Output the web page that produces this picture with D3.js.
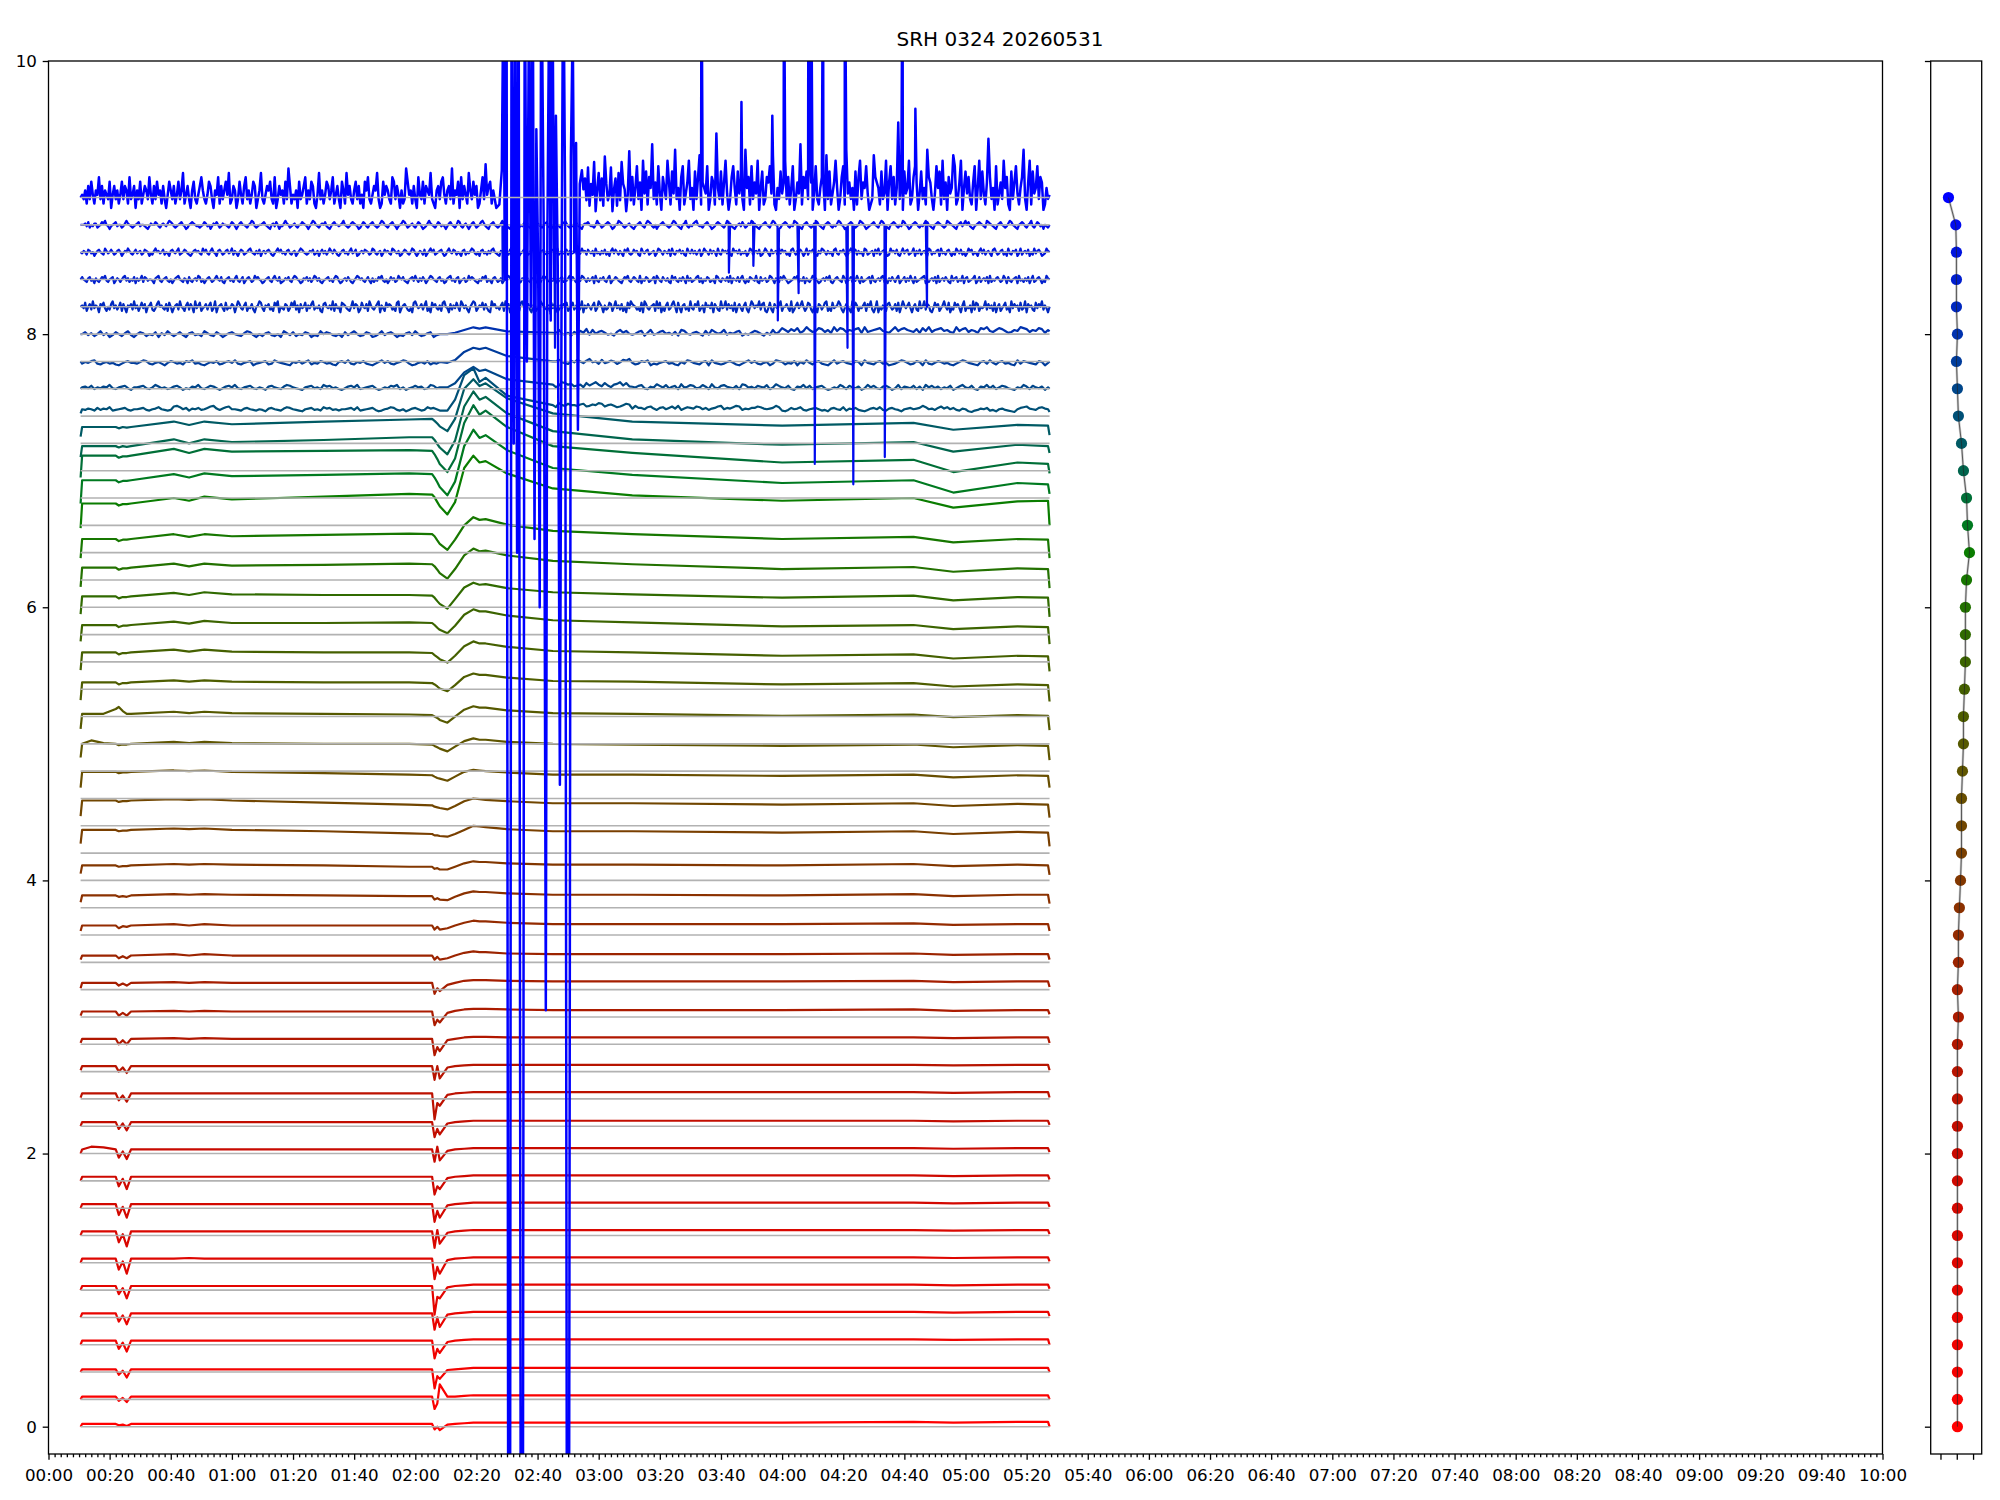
<!DOCTYPE html>
<html lang="en">
<head>
    <meta charset="UTF-8">
    <title>SRH 0324 20260531</title>
    <script src="https://d3js.org/d3.v7.min.js"></script>
    <style>
        body { margin: 0; background: #ffffff; }
        svg { display: block; }
    </style>
</head>
<body>
    <svg id="chart"></svg>
    <script>
        const width = 2000;
        const height = 1500;
        const plot = {left: 48.5, right: 1882.5, top: 61, bottom: 1454};
        const side = {left: 1930.7, right: 1981.7};
        const fontFamily = "DejaVu Sans";

        const titleText = "SRH 0324 20260531";
        const xTickLabels = ["00:00", "00:20", "00:40", "01:00", "01:20", "01:40", "02:00", "02:20", "02:40", "03:00",
            "03:20", "03:40", "04:00", "04:20", "04:40", "05:00", "05:20", "05:40", "06:00", "06:20", "06:40",
            "07:00", "07:20", "07:40", "08:00", "08:20", "08:40", "09:00", "09:20", "09:40", "10:00"];
        const yTickValues = [0, 2, 4, 6, 8, 10];
        const sideTickValues = [-1, 0, 1];

        // baseline of every channel (grey lines, dots in the side panel)
        const traceOffsets = [0, 0.2, 0.4, 0.6, 0.8, 1.0, 1.2, 1.4, 1.6, 1.8, 2.0, 2.2, 2.4, 2.6, 2.8, 3.0,
            3.2, 3.4, 3.6, 3.8, 4.0, 4.2, 4.4, 4.6, 4.8, 5.0, 5.2, 5.4, 5.6, 5.8, 6.0, 6.2, 6.4, 6.6, 6.8,
            7.0, 7.2, 7.4, 7.6, 7.8, 8.0, 8.2, 8.4, 8.6, 8.8, 9.0];

        // minutes after 00:00 where the slow shape of each trace was read
        const knotMinutes = [10.5, 11, 14, 18, 22, 23, 24.3, 25.6, 27, 41, 46, 51, 60, 90, 118, 125.5, 126.3,
            127.2, 128, 130.5, 133, 136, 139, 141, 143, 150, 165, 191, 240, 283, 296, 317, 327, 327.5];

        // deviation from the baseline, in hundredths, at each knot
        const traceKnots = [
            [0, 2,2,2,2, 1,1.5,0.5,2, 2,2,2,2,2,2, 2,-2,0,-2.5, 1.5,2,2.5,3,3,3, 3,3,3, 3,3.5,3,3.5,3.5, 0],
            [0, 2,2,2,2, -1,1,-2,2, 2,2,2,2,2,2, 2,-7,-3,11, 2,2,2.5,3,3,3, 3,3,3, 3,3,3,3,3, 0],
            [0, 2,2,2,2, -2,1,-4,2, 2,2,2,2,2,2, 2,-12,-3,-5, 1.5,2,2.5,3,3,3, 3,3,3, 3,3,3,3,3, 0],
            [0, 3,3,3,3, -3,1.5,-5,3, 3,3,3,3,3,3, 3,-10,-3,-6, 2,3,3.5,4,4,4, 4,4,4, 4,4,3.5,4,4, 0],
            [0, 3,3,3,3, -3,1.5,-5,3, 3,3,3,3,3,3, 3,-9,0,-7, 2,3,3.5,4,4,4, 4,4,4, 4,4,3.5,4,4, 1],
            [0, 3,3,3,3, -3,1.5,-6,3, 3,3,3,3,3,3, 3,-18,-5,-6, 2,3,3.5,4,4,4, 4,4,4, 4,4,3.5,4,4, 1],
            [0, 3,3,3,3, -5,1,-8,3, 3,3.5,3,3,3,3, 3,-12,-3,-8, 2,3,3.5,4,4,4, 4,4,4, 4,4,3.5,4,4, 1],
            [0, 3,3,3,3, -5,1,-8,3, 3,3,3,3,3,3, 3,-9,4,-6, 2,3,3.5,4,4,4, 4,4,4, 4,4,3.5,4,4, 1],
            [0, 3,3,3,3, -5,1,-7,3, 3,3,3,3,3,3, 3,-10,-2,-7, 2,3,3.5,4,4,4, 4,4,4, 4,4,3.5,4,4, 1],
            [0, 3,3,3,3, -4,1.5,-6,3, 3,3,3,3,3,3, 3,-10,-4,-6, 2,3,3.5,4,4,4, 4,4,4, 4,4,3.5,4,4, 1],
            [0, 3,5,4.5,3, -3,1.5,-4,3, 3,3,3,3,3,3, 3,-6,5,-5, 2,3,3.5,4,4,4, 4,4,4, 4,4,3.5,4,4, 1],
            [0, 3,3,3,3, -2,2,-3,3, 3,3,3,3,3,3, 3,-8,-2,-6, 2,3,3.5,4,4,4, 4,4,4, 4,4,3.5,4,4, 1],
            [1, 4,4,4,4, -1,2.5,-2,4, 4,4,4,4,4,4, 4,-15,-3,-5, 3,4,4.5,5,5,5, 5,5,5, 5,5,4.5,5,5, 1],
            [1, 4,4,4,4, 0,3,-1,4, 4,4,4,4,4,4, 4,-6,4,-5, 3,4,4.5,5,5,5, 5,5,5, 5,5,4.5,5,5, 1],
            [1, 4,4,4,4, 0,3,0,4, 4.5,4,4.5,4,4,4, 4,-8,-2,-5, 3,4,5,5.5,5.5,5.5, 5,5,5, 5,5,4.5,5,5, 1],
            [1, 4,4,4,4, 1,3,1,4, 4.5,4,4.5,4,4,4, 4,-6,-2,-4, 3,4.5,5.5,6,6,6, 5.5,5,5, 5,5.5,4.5,5,5, 2],
            [1, 5,5,5,5, 3,4.5,3,5, 5.5,5,5.5,5,5,5, 5,-3,1,-1, 3.5,5,6.5,7,7,7, 6.5,6,6, 6,6.5,5.5,6,6, 2],
            [2, 5,5,5,5, 3,4.5,3,5, 6,5,6,5,5,5, 5,2,4,2, 3,5,7,8,7.5,7.5, 6.5,6,6, 6,6.5,5.5,6,6, 2],
            [3, 7,7,7,7, 5,6.5,6,7, 8,7,8,7,7,7, 7,4,6,4, 5,7,9,10.5,10,10, 9,8,8, 8,8.5,7.5,8,8, 3],
            [4, 9,9,9,9, 8,8.5,8,9, 10,9.5,10,9.5,9,8.5, 8.5,6,7,6, 5.5,8,10.5,12,11.5,11.5, 10.5,9.5,9.5, 9,10,8.5,9.5,9.5, 3],
            [5, 11,11,11,11, 10,10.5,10.5,11, 12,11.5,12,11.5,11,10, 10,8.5,9,8, 8,10,12.5,14,13.5,13.5, 12.5,11.5,11.5, 11,12,10.5,11.5,11, 4],
            [7, 17,17,17,17, 16,16.5,16.5,17, 18,17.5,18,17,16,14.5, 14,13,13,12.5, 12,14,17,20,19.5,19, 17.5,16,16, 15,16,14,15.5,15, 5],
            [7, 18.5,18.5,18.5,18.5, 17.5,18,18,18.5, 19.5,19,19.5,18.5,17,15.5, 15,14,13.5,13, 12,14.5,18,20,19.5,19, 18,16.5,16.5, 15.5,16.5,14.5,16,15.5, 6],
            [8, 19.5,19.5,19.5,19.5, 18.5,19,19,19.5, 20.5,20,20.5,19.5,18.5,17.5, 17,16,15,14.5, 13,16,19.5,21,20.5,20, 19,17.5,17.5, 16.5,17.5,15.5,17,16.5, 8],
            [10, 20,22.5,20.5,20, 19,19.5,19.5,20, 21.5,20.5,21.5,20.5,20,20, 19.5,18.5,17.5,16.5, 14.5,18,22,24,23,23, 21.5,20,19.5, 18.5,19.5,17.5,19,18.5, 8],
            [11, 22,22,22,25.5, 27,24,22,22, 23.5,22.5,23.5,22.5,22,21.5, 21,20,19,17.5, 15.5,20,25,27.5,26.5,26.5, 24.5,22.5,22, 20.5,21.5,19.5,21,20.5, 10],
            [12, 25,25,25,25, 23.5,24.5,24.5,25, 26.5,25.5,26.5,25.5,25,25, 24.5,23.5,22,20.5, 18.5,23,29,31.5,30.5,30.5, 28.5,26,25.5, 23.5,24.5,22,23.5,23, 11],
            [14, 27,27,27,27, 25.5,26.5,26.5,27, 29,27.5,29,27.5,27,27, 26.5,25,23.5,22, 19.5,24.5,31.5,35,33.5,33.5, 31,28,27, 24.5,25.5,22.5,24.5,24, 13],
            [15, 27,27,27,27, 25.5,26.5,26.5,27, 29.5,28,30,28.5,28.5,29, 28.5,27,25,23.5, 21,26.5,34.5,38.5,37,37, 34,30.5,29, 26,27,24,26,25.5, 13],
            [15, 28,28,28,28, 26.5,27.5,27.5,28, 30.5,29,31,29.5,29,29, 28.5,27,24.5,22.5, 19,26,34.5,38,36.5,37, 34,31,29.5, 27,28.5,25,27.5,27, 13],
            [15, 29,29,29,29, 27.5,28.5,28.5,29, 32,30,32,30.5,31,32, 31.5,30,27.5,25, 21,28,38,43,41,41.5, 38,34,31.5, 28,29.5,26,28.5,28, 14],
            [16, 30,30,30,30, 28.5,29.5,29.5,30, 33.5,31.5,33.5,32,33,34, 33.5,32,29,26.5, 22,29.5,40,46,44,44.5, 40.5,36,33.5, 30,31.5,27.5,30,29.5, 16],
            [18, 36,36,36,36, 34.5,35.5,35.5,36, 40,38,41,39,41,43, 42.5,40.5,37,34, 28,37,62,71,66,67, 58,47,42, 38,40,33,37.5,38, 20],
            [16, 33,33,33,33, 31.5,32.5,32.5,33, 37.5,35,38,36,37,38, 37.5,35,31.5,28, 22,32,58,70,64,66, 55,42,37, 31,33,24,31,30, 23],
            [15, 31,31,31,31, 29.5,30.5,30.5,31, 36,33,36,34,34.5,35, 34.5,32,28.5,25, 19,29,55,68,61,64, 52,38,33, 26,28,19,26,25, 18],
            [10, 18,18,18,18, 17,18,17.5,18, 23,20,23,21,22.5,24.5, 24.5,22.5,19.5,17, 12,22,47,58,52,54, 42,29,23, 19,21,14,19,18, 13],
            [5, 12,12,12,12, 11,12,11.5,12, 16,13.5,16,14,16,17.5, 18,16.5,14.5,12.5, 9,18,40,47,42,44, 33,22,16, 13,15,10,13.5,13, 6],
            [2, 5,5,5,5, 5,5,5,5, 6.5,5,6,5,5,5, 5,5,4.5,4.5, 4,12,30,35,25,28, 15,8,6, 5,6,4.5,5.5,5, 3],
            [0, 1,1,1,1, 1,1,1,1, 1,1,1,1,1,1, 1,1,1,1, 1,4,12,16,13,14, 7,3,1.5, 1,1,1,1,1, 0],
            [0, -1,-1,-1,-1, -1,-1,-1,-1, -1,-1,-1,-1,-1,-1, -1,-1,-1,-1, -1,1,7,10,9,10, 4,0,-1, -1,-1,-1,-1,-1, 0],
            [0, 0,0,0,0, 0,0,0,0, 0,0,0,0,0,0, 0,0,0,0, 0,1,3,5,4,5, 2,1,1, 3,3,3,3,3, 2],
            [0, 0,0,0,0, 0,0,0,0, 0,0,0,0,0,0, 0,0,0,0, 0,0,0,0,0,0, 0,0,0, 0,0,0,0,0, 0],
            [0, 0,0,0,0, 0,0,0,0, 0,0,0,0,0,0, 0,0,0,0, 0,0,0,0,0,0, 0,0,0, 0,0,0,0,0, 0],
            [0, 0,0,0,0, 0,0,0,0, 0,0,0,0,0,0, 0,0,0,0, 0,0,0,0,0,0, 0,0,0, 0,0,0,0,0, 0],
            [0, 0,0,0,0, 0,0,0,0, 0,0,0,0,0,0, 0,0,0,0, 0,0,0,0,0,0, 0,0,0, 0,0,0,0,0, 0],
            [0, 2,2,2,2, 2,2,2,2, 2,2,2,2,2,2, 2,2,2,2, 2,2,2,2,2,2, 2,2,3, 3,3,3,3,3, 2]
        ];

        // jitter of the noisy upper traces; one letter per sample, 'e' = 0
        const noiseTraces = [37, 38, 39, 40, 41, 42, 43, 44, 45, 45];
        const noiseStartMinute = [11, 11, 11, 11, 11, 11, 11, 11, 11, 175];
        const noiseStepMinutes = [1, 1, 1, 1, 0.5, 0.5, 0.5, 0.5, 0.5, 0.5];
        const noiseScale = [0.005, 0.006, 0.006, 0.007, 0.01, 0.009, 0.009, 0.01, 0.032, 0.04];
        const noiseCodes = [
            "edfecgdfehcdefgdceefgdcefhedcdfgebdcfegdceghdbdfgeedcfgedcedbfgedcfhgedcbefgdechfgdeceefgd" +
            "hcdefgdbcefhgdcebdfgecdhfgedcbefgdcehfdbgcedfbdghecdfegbdfchegdcfbhedgeedfgcdfehgcefdbcegf" +
            "dheecfgdbefcegdhbdfedgfcebdeghcedfhgbdceegfdcdehfcbdgefhdcefgecdbfgedhcfegdcbdfgehdcfgedbe" +
            "fgcdehfcdbegdfchedgfcbdegfhdecfgedcbdfghedcfgeeeee",
            "efdgcedfehdcefgdbeefgdcehfdecdfgebdcfehdcegfdbdfgehdcefgdcedbfgedcfhgedcbefgdechfgdecbdfge" +
            "hcdefgdbcedgfhcebdegefcdhgdecbfhedcgfedbcgedfbhdgedcfegbhdfcgedcfbdhgefcdebgdfhecgdbefhdgc" +
            "edfgcbedhfdgcefbhdegfcdgebhdcfgedcfbhgdecfedgbdhfedgcbfehdgcefgdbcedhfcgedfbdhegdcfgebdhcf" +
            "edgcfbhegdfcedgbdfhedgcbfehdgcegfdcbedhfcgedfbeeee",
            "dfeghdcefdecbdfgeedfhgdcefdbegfdecgfhdecbdfegcdfgehdcefgbdefgcdhfedcbfegdfhcedgfdecbfgehdc" +
            "fegdcbdfhegdcefhgdbcefdgcedfhbdgecfbdehgfcdegbfdcehgefdcbdfgecdhfegdcbfdgecfhdebgcdfebdgfh" +
            "ecdgfhbdcefgdecbfdhgedcfgbhedcdfgecbdfhegdcefbdhgfcedgbfdhecfgdcbehdfgedcgfbhedcfgdebcdfhg" +
            "ecdgfbhdcegfdecbdfhgedcbfgdhecfgdecbhdgfedcgfbeeee",
            "egdfcehdfbdgecfhdbegfcedgbfdhecegdbfgdechfdcgebdfgedcfhgdbecfgdcebhfdgcedgfbdchegfdcebgdfh" +
            "ecdgfbcehdfgebdcfgdhecdfgbdecfhgdcefbdgfecdhgfbcdedfhebcgdfecegbfdhdcebfdgeichdfgecdbfhegd" +
            "cdfgbehcdfgdecfbhgdcefdbgchfdehcedfgbdcegfdbechdfgecfdgbdhecdgfcebhdgfcedfgbhcdefgdcbehdfg" +
            "edcfbgdhcefgdecbhdfgcedbgfhdcegfdbcedhgfcedgfbeeee",
            "fdhbegcidfeagfhdbecgidfcehbgdafegcidfbehdgaefhcbdgiefdcgbheadfgciedbfhcgeaidfhbdegcfhbdiae" +
            "fgdbhcedgfaeigdcfhbedgcaefihdbfegcdbhfiaedcgfbdheicfagdehbfdgicedfbaghedfcibgdeahgfdcbeidg" +
            "fachedgbifdcegiafdbhegfcdbhiadfgecbdahifdegcfibdahegdcfbhiedagcfdhebigdfcaegihbdfehcgdbaif" +
            "gdecfhbidgaefdcgbhiedfgcaehbdfigedcfbhdgeacfdgehbdfhcegbdiafdgecfhbdigeafcdhgbeidfcgbeahdi" +
            "gfecdbhaigdcefgbidhaebfhcdgieahdafgcebidcgeibdfahefdhagecbideicgdfbhaegdbfhcaeigdfeicghbad" +
            "hcagedfibeegdbiacfhdfiebdhgcaedagfcehibdbhdefigcadgecaidhfbedfhbgeicadiaecfdbghecdgbhaeifd" +
            "fhdaegcbideicgfbadhegbdfiechadchegdafibedfaichgbedeicgdfbhaegbdfhceaidgefbhcdiagefcbhdgeicfdabhegcf",
            "gedcfgdebfdcegfhdcefgbdfeceghdfcedgbfdehcgfdeedbfghdcefgdcebdfghedcfebgdcefdhgcebdfgecdfhe" +
            "dgcbefgdecfhdcegbdfgecdhfgedbcefgdcfhedgbcdfegdcfhgedbcfegdfcehgdfcbdefgdecfhgdbcefdgecbdf" +
            "hgefdcegdbfcedgfhdcebdgefcdhfegdcbefgdhecfdgebdfhgedcfgdebcfghdecfgbdefcdhegfdcbedgfhcedbf" +
            "gecdfbdeghfdcegdbcfehgdcefgdbecfhgedcfdgebdfgcedfhdgecbfdhgecfdegbhdcfegdcfhbdegfdcbegfhdc" +
            "egfdchbedgfcdegbhfdcgedfcbhegdcfdgebhdfcdeghcfbedgfcdebhgdcfedgchbfedgcfhdbecgfedhcbgdefcd" +
            "hgebfdcgehfdbcdegfhcedgbfdcehgfdbcefdgehcbdfgedchfbdegcfdhebgcdefgbhdcefdghcebfdgecfhbdegc" +
            "fdhebgcdefghbdcefdgbhcefdgecbhdfgcedhbfgcdefhbdgcefdgbhcedfgecdhfbgdcefgbhdecfdgbehcdfgebdchfegdbcfe",
            "dfecgfdebdfgedchfdegecdfgebdfehfdcegdefcdgfebdcfhefdegcedbfgedfhcdegfdcbdfgefdchegdcfhedbf" +
            "gecdfgdehcfdbegfcdeghedcfdgbefdfgecbdfhegdecfgdcefbdfhgedcdfegcdfbegdfcehfdgecbdfgdecfhdeg" +
            "bcefdgfecdhgdcefbdgefdchgedfbcegfdcehgdbdfecgbdfhegcdefgdbcfhedgfcedbfgcedfhgdcebfgdecfdgh" +
            "edcbfegdfcgehdcfbdegfdcegfhdcbefgdcedfgedhcefdegcfedgfbcdhefcgedfbhdecfdgcebfhdgecfdbgehdc" +
            "dgefcbhedfgcdefbdhgecfedgbhdcfegdfcbhedgdfcegbdhfecgdfebhdcgefdgcbhefdgcedfbdhgcefdgbcehfd" +
            "bgdefchdgefcdbghecfdgebdhcfegdcbfdhgecfdebghdcfegdbcfhedgcfdebhgcdefbgdhcefgdbchefdgcbehdf" +
            "gcdehbfdgcefdbhgcedfgbhdecfgdbechfdgcebdhfgcedbfhdgcefdbghecdfgcebhdcfegbdhcefdgbechdfgebcdhfegcdbfh",
            "eefdgcedffcdegfhedbdefgdeecdfhfedcdefgdeedcbdfeegfdcefedfhgfdcdefgedbcefgfeddcdegfdebdfege" +
            "cdfeedcegfdbdfgeedcefhgdcdeefgedcbefdgebddfhfecdefdceegfedbdfhgedcefegdcbdfgeedefhedcdfgfe" +
            "dbcegfdcefgedcdfhgedcefgedbdefhgecdefdcegfdbcdfhfedcegfdedbdfgedcehgdcefdbdfgecdeghfdcbefg" +
            "edcdfhgedcbefgfdcedfhgdcbdegfedcefgdcbdfgedcefhfdcedfgedcbeffgeddcehfecdefgfdbceehgfdcdefd" +
            "cbdefgedcfhgfdcebdefgeedcdfhgedcbefhdcedfgheddcefgedbcdfgfedcehgfdcbdefdgecdfehgfdcbdefged" +
            "cfhgedbcefgfdcedhgfdcbefgedcdfhgedcbefgfdcedfhgedbcefgfdcdehgfdbcdefgedcfhgedcbefgfdcedhge" +
            "dbcefgfdcedfhgedcbefgfedcdhgfedcbefgdfhegdcbdefgfedchgfedcbefgedcdfhgedcbefgfdcefhdcegfdebedcfgdehfd",
            // channel 9.0, 00:11 - 02:27
            "edfcgdhecfeidgcfedhbegdfcehdgfcidegbfdhcegfdiecgdhefcgdbehfd" +
            "gcehdfjcegdbfhdcegifdcehgdbfeicgdfhejcdgfbdhecgidfcehgbdfjdc" +
            "egfhdcibdgefchdkgcedfbhdegicfdhgcbejdfcehgdficegdbhfcjegdcfh" +
            "dgcebhfidcegfjdbchegfdcihdgebfcdkhefcgdbiedhcgfejdcbfgdhiecf" +
            "gdkcfehbidgecjfdhegbcfidleghcfdb",
            // channel 9.0, 02:55 - 05:27
            "fhdjcgekbfidhclgdejbfhcidkgfbemdhcfjdgbkeichfndgcjebhfdkgcie" +
            "mdfbhjcegkdfbidhlcgfejbdhgcpfdicgkebdhjfciegdbmfhcjdgekbficd" +
            "hgjelcbfdiegkdhcfjbdgenchfidkgbejdcfhgbldicegkfbdhjcmegdfbic" +
            "hkdgfjebcdlhgfcidekbgjdhcfrdgbiefkcdhjgbeidfcmhgdbejfickdgbh" +
            "efljcdgkbfiehdcgjbfkdiecgohdfbjcegdkfhcbidgjecfhmdbgkciefjdh" +
            "gbcfdiekhgdfcjeb"
        ];

        // channel 9.0 between 02:27 and 02:55 (absolute values, off-scale ones run past the frame)
        const burstMinutes = [147.5, 148.3, 148.8, 149.3, 149.8, 150.4, 151.0, 151.5, 152.2, 152.7, 153.3,
            153.8, 154.5, 155.2, 155.8, 156.5, 157.2, 157.8, 158.4, 159.0, 159.6, 160.2, 160.7, 161.2, 162.0,
            162.7, 163.2, 163.8, 164.3, 164.8, 165.4, 166.0, 166.6, 167.3, 167.9, 168.4, 169.0, 169.6, 170.3,
            170.9, 171.5, 172.0, 172.6, 173.2, 173.8, 174.5];
        const burstValues = [8.95, 9.2, 10.5, 8.4, 12, -1, -1, 11, 7.2, 11, 6.4, 11, -1, -1, 11, 7.8, 10.5,
            8.2, 11, 6.5, 9.5, 8.5, 6.0, 11, 8.8, 3.05, 8.7, 10.5, 8.1, 11, 8.4, 9.6, 8.5, 4.7, 8.6, 11, 9.0,
            -1, -1, 9.3, 10.3, 8.6, 9.4, 7.3, 9.1, 9.2];
        const topSpikes = [[213.6, 11], [226.7, 9.7], [236.8, 9.6], [240.6, 11], [248.6, 11], [249.5, 10.8],
            [253.4, 11], [260.5, 11], [279.4, 11], [283.6, 9.65]];
        const spikes88 = [[148.6, 8.4], [156.4, 8.3], [164.2, 8.15], [165.7, 7.9], [222.6, 8.45], [230.6, 8.5],
            [238.6, 8.1], [245.4, 8.3], [250.7, 7.05], [261.4, 7.9], [263.3, 6.9], [273.6, 7.1], [287.4, 8.2]];

        // horizontal position of each channel in the side panel
        const sideDotX = [0.04, 0.04, 0.04, 0.04, 0.04, 0.04, 0.04, 0.04, 0.04, 0.04, 0.04, 0.04, 0.04, 0.04,
            0.04, 0.1, 0.04, 0.1, 0.1, 0.16, 0.23, 0.29, 0.29, 0.29, 0.35, 0.41, 0.41, 0.47, 0.53, 0.53, 0.53,
            0.6, 0.78, 0.66, 0.6, 0.41, 0.29, 0.1, 0.04, -0.02, 0.04, -0.02, -0.02, -0.02, -0.06, -0.51];

        const traceColor = d3.scaleLinear()
            .domain([0, 10, 16, 20, 24, 28, 32, 33, 36, 40, 45])
            .range(["#ff0000", "#c80a00", "#a51e00", "#823700", "#5f5500", "#3c6400", "#0a7d00", "#007a20",
                "#005a64", "#0032af", "#0000ff"])
            .interpolate(d3.interpolateRgb);

        const toMinutes = label => {
            const [h, m] = label.split(":").map(Number);
            return h * 60 + m;
        };
        const xTickMinutes = xTickLabels.map(toMinutes);

        const x = d3.scaleLinear().domain([0, 600]).range([plot.left, plot.right]);
        const y = d3.scaleLinear().domain([-0.2, 10]).range([plot.bottom, plot.top]);
        const sx = d3.scaleLinear().domain([-1.6, 1.53]).range([side.left, side.right]);

        function traceSeries(i) {
            const off = traceOffsets[i];
            const row = traceKnots[i];
            const segs = noiseTraces.map((tr, n) => tr === i ? n : -1).filter(n => n >= 0);
            if (!segs.length) return knotMinutes.map((t, j) => [t, off + row[j] / 100]);

            const pts = [[knotMinutes[0], off + row[0] / 100]];
            segs.forEach(n => {
                const codes = noiseCodes[n];
                for (let k = 0; k < codes.length; k++) {
                    const t = noiseStartMinute[n] + k * noiseStepMinutes[n];
                    if (t > 327.2) break;
                    if (i === 45 && t > 147 && t < 175) continue;
                    if (i <= 40 && t > 128.5 && t < 166) continue;
                    let j = 1;
                    while (j < knotMinutes.length - 2 && knotMinutes[j + 1] <= t) j++;
                    pts.push([t, off + row[j] / 100 + (codes.charCodeAt(k) - 101) * noiseScale[n]]);
                }
            });
            if (i <= 40) {
                knotMinutes.forEach((t, j) => { if (t > 128.5 && t < 166) pts.push([t, off + row[j] / 100]); });
            }
            if (i === 45) {
                burstMinutes.forEach((t, j) => pts.push([t, burstValues[j]]));
                topSpikes.forEach(p => pts.push(p));
            }
            if (i === 44) spikes88.forEach(p => pts.push(p));
            pts.push([knotMinutes[knotMinutes.length - 1], off + row[row.length - 1] / 100]);
            return pts.sort((a, b) => a[0] - b[0]);
        }

        const svg = d3.select("#chart")
            .attr("width", width)
            .attr("height", height)
            .attr("viewBox", `0 0 ${width} ${height}`)
            .style("background", "#ffffff");

        svg.append("defs").append("clipPath")
            .attr("id", "plot-clip")
            .append("rect")
            .attr("x", plot.left)
            .attr("y", plot.top)
            .attr("width", plot.right - plot.left)
            .attr("height", plot.bottom - plot.top);

        const line = d3.line()
            .x(d => x(d[0]))
            .y(d => y(d[1]));

        const traces = svg.append("g").attr("clip-path", "url(#plot-clip)");

        traceOffsets.forEach((off, i) => {
            traces.append("path")
                .datum(traceSeries(i))
                .attr("fill", "none")
                .attr("stroke", traceColor(i))
                .attr("stroke-width", i === 45 ? 2.5 : 2.2)
                .attr("stroke-linejoin", "round")
                .attr("d", line);

            traces.append("line")
                .attr("x1", x(knotMinutes[0]))
                .attr("x2", x(knotMinutes[knotMinutes.length - 1]))
                .attr("y1", y(off))
                .attr("y2", y(off))
                .attr("stroke", "#b2b2b2")
                .attr("stroke-width", 1.6);
        });

        // axes of the main panel
        const xAxis = svg.append("g")
            .attr("transform", `translate(0,${plot.bottom})`)
            .call(d3.axisBottom(x)
                .tickValues(xTickMinutes)
                .tickFormat((d, i) => xTickLabels[i])
                .tickSize(5.8)
                .tickPadding(9.3)
                .tickSizeOuter(0));

        const xMinor = svg.append("g")
            .attr("transform", `translate(0,${plot.bottom})`)
            .call(d3.axisBottom(x)
                .tickValues(d3.range(0, 601, 2).filter(m => m % 20 !== 0))
                .tickFormat("")
                .tickSize(3.3)
                .tickSizeOuter(0));

        const yAxis = svg.append("g")
            .attr("transform", `translate(${plot.left},0)`)
            .call(d3.axisLeft(y)
                .tickValues(yTickValues)
                .tickSize(5.8)
                .tickPadding(5.8)
                .tickSizeOuter(0));

        [xAxis, xMinor, yAxis].forEach(g => {
            g.select(".domain").remove();
            g.selectAll("line").attr("stroke", "#000").attr("stroke-width", 1.3);
            g.selectAll("text")
                .attr("fill", "#000")
                .attr("font-family", fontFamily)
                .attr("font-size", 16.7);
        });

        svg.append("rect")
            .attr("x", plot.left)
            .attr("y", plot.top)
            .attr("width", plot.right - plot.left)
            .attr("height", plot.bottom - plot.top)
            .attr("fill", "none")
            .attr("stroke", "#000")
            .attr("stroke-width", 1.3);

        // side panel
        const sideData = traceOffsets.map((off, i) => ({off: off, x: sideDotX[i], i: i}));

        svg.append("path")
            .datum(sideData)
            .attr("fill", "none")
            .attr("stroke", "#9a9a9a")
            .attr("stroke-width", 2.4)
            .attr("stroke-opacity", 0.55)
            .attr("d", d3.line().x(d => sx(d.x)).y(d => y(d.off)));

        svg.append("g")
            .selectAll("circle")
            .data(sideData)
            .enter().append("circle")
            .attr("cx", d => sx(d.x))
            .attr("cy", d => y(d.off))
            .attr("r", 5.6)
            .attr("fill", d => traceColor(d.i));

        svg.append("path")
            .datum(sideData)
            .attr("fill", "none")
            .attr("stroke", "#222")
            .attr("stroke-width", 0.9)
            .attr("stroke-opacity", 0.75)
            .attr("d", d3.line().x(d => sx(d.x)).y(d => y(d.off)));

        const sideY = svg.append("g")
            .attr("transform", `translate(${side.left},0)`)
            .call(d3.axisLeft(y).tickValues(yTickValues).tickFormat("").tickSize(5.8).tickSizeOuter(0));

        const sideX = svg.append("g")
            .attr("transform", `translate(0,${plot.bottom})`)
            .call(d3.axisBottom(sx).tickValues(sideTickValues).tickFormat("").tickSize(5.8).tickSizeOuter(0));

        [sideY, sideX].forEach(g => {
            g.select(".domain").remove();
            g.selectAll("line").attr("stroke", "#000").attr("stroke-width", 1.3);
        });

        svg.append("rect")
            .attr("x", side.left)
            .attr("y", plot.top)
            .attr("width", side.right - side.left)
            .attr("height", plot.bottom - plot.top)
            .attr("fill", "none")
            .attr("stroke", "#000")
            .attr("stroke-width", 1.3);

        svg.append("text")
            .attr("x", width / 2)
            .attr("y", 45.6)
            .attr("text-anchor", "middle")
            .attr("font-family", fontFamily)
            .attr("font-size", 20)
            .attr("fill", "#000")
            .text(titleText);
    </script>
</body>
</html>
